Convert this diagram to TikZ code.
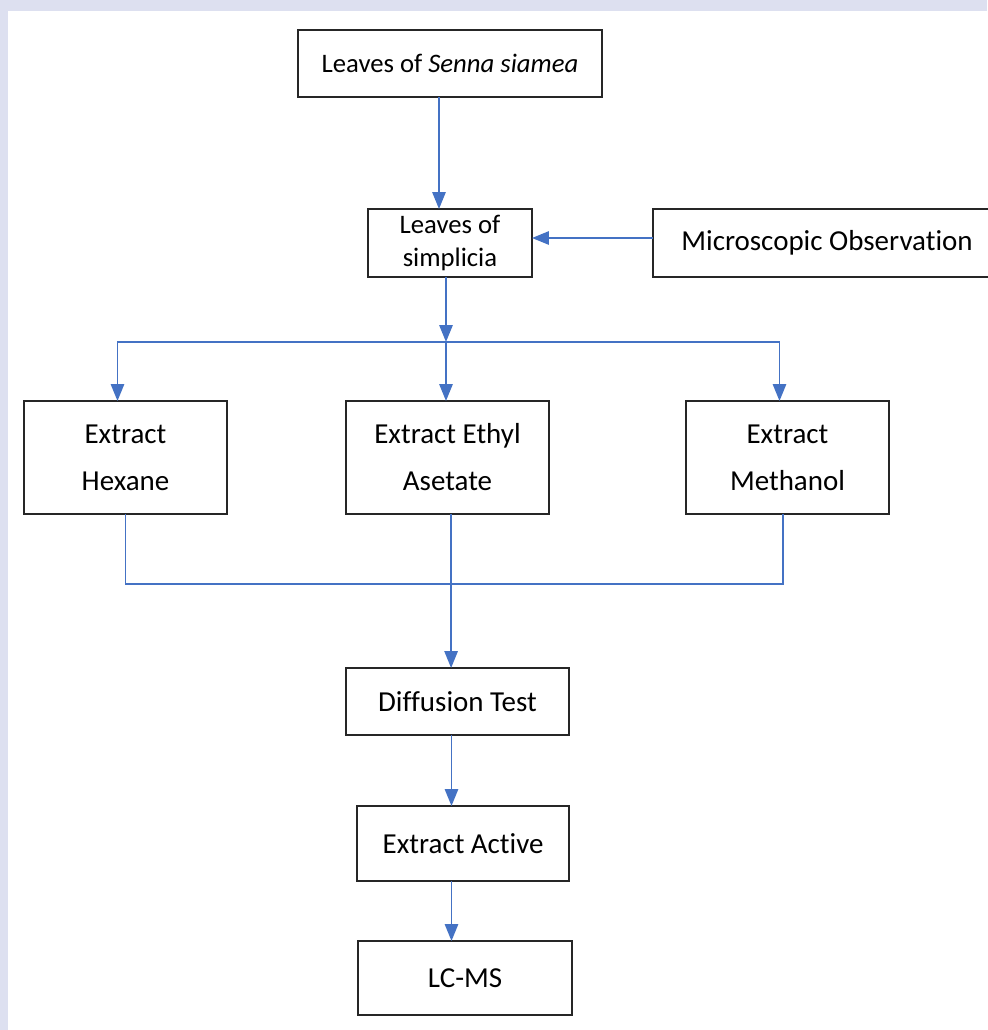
\documentclass[tikz,border=0pt]{standalone}
\usepackage{fontspec}
\setmainfont{Carlito}[Ligatures={NoCommon,NoRare}]
\usepackage{tikz}
\usetikzlibrary{
  arrows.meta, positioning, backgrounds, calc
}
\usepackage{xcolor}
\definecolor{flowblue}{RGB}{68,114,196}
\definecolor{pagelav}{RGB}{221,224,240}
\tikzset{
  stage/.style={
    rectangle, draw=black!85, line width=1.2pt,
    fill=white, inner sep=2pt, outer sep=0pt,
    align=center, font=\fontsize{20.6}{25}\selectfont
  },
  solvent/.style={
    stage, minimum width=5.075cm, minimum height=2.825cm,
    font=\fontsize{20.6}{33.4}\selectfont
  },
  arrow/.style={-{Triangle[length=4.2mm, width=3.3mm]}, line width=1.3pt, draw=flowblue},
  link/.style={line width=1.3pt, draw=flowblue}
}

\begin{document}
\begin{tikzpicture}
  % page frame
  \useasboundingbox (-11.25,1.5875) rectangle (13.425,-24.1625);
  \fill[pagelav] (-11.25,1.5875) rectangle (13.425,-24.1625);
  \fill[white] (-11.05,1.3125) rectangle (13.425,-24.1625);

  \node[stage, minimum width=7.6cm, minimum height=1.675cm,
    font=\fontsize{19}{23}\selectfont] (senna) at (0,0)
    {Leaves of \textit{Senna siamea}};
  \node[stage, minimum width=4.1cm, minimum height=1.7cm,
    font=\fontsize{19}{22.8}\selectfont, below=2.8cm of senna] (simplicia)
    {Leaves of\\simplicia};
  \node[stage, minimum width=8.7cm, minimum height=1.7cm,
    right=3.025cm of simplicia] (micro) {Microscopic Observation};

  \node[solvent, below=3.1cm of simplicia, xshift=-0.0625cm] (ethyl)
    {Extract Ethyl\\Asetate};
  \node[solvent, left=2.975cm of ethyl] (hexane) {Extract\\Hexane};
  \node[solvent, right=3.425cm of ethyl] (methanol) {Extract\\Methanol};

  \node[stage, minimum width=5.575cm, minimum height=1.675cm,
    below=3.85cm of ethyl, xshift=0.25cm] (diffusion) {Diffusion Test};
  \node[stage, minimum width=5.3cm, minimum height=1.875cm,
    below=1.775cm of diffusion, xshift=0.14cm] (active) {Extract Active};
  \node[stage, minimum width=5.35cm, minimum height=1.85cm,
    below=1.5cm of active, xshift=0.05cm] (lcms) {LC-MS};

  \coordinate (split) at ([xshift=-1mm, yshift=-16.25mm]simplicia.south);
  \coordinate (stem) at ([xshift=-1.5mm]diffusion.south);

  \draw[arrow] ([xshift=-2.75mm]senna.south) -- ([xshift=-2.75mm]senna.south |- simplicia.north);
  \draw[arrow] ([yshift=1.25mm]micro.west) -- ([yshift=1.25mm]micro.west -| simplicia.east);
  \draw[arrow] (simplicia.south -| split) -- (split);

  \draw[link] ([xshift=-2mm]hexane.north |- split) -- ([xshift=-2mm]methanol.north |- split);
  \draw[arrow] ([xshift=-2mm]hexane.north |- split) -- ([xshift=-2mm]hexane.north);
  \draw[arrow] (split) -- (split |- ethyl.north);
  \draw[arrow] ([xshift=-2mm]methanol.north |- split) -- ([xshift=-2mm]methanol.north);

  \draw[link] (hexane.south) -- ++(0,-1.75) -| ([xshift=-1.1mm]methanol.south);
  \draw[arrow] ([xshift=0.9mm]ethyl.south) -- ([xshift=0.9mm]ethyl.south |- diffusion.north);
  \draw[arrow] (stem) -- (stem |- active.north);
  \draw[arrow] (stem |- active.south) -- (stem |- lcms.north);
\end{tikzpicture}
\end{document}
